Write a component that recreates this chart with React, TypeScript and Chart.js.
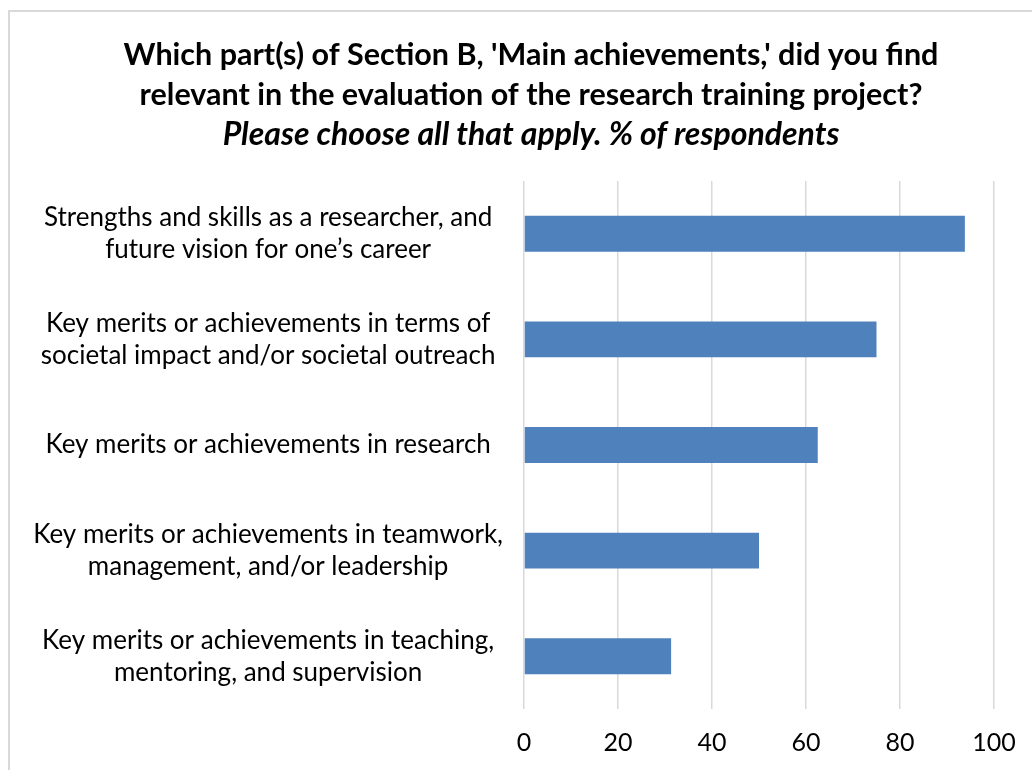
import React, { useEffect, useRef } from "react";
import { Chart, registerables } from "chart.js";

Chart.register(...registerables);

const categories: (string | string[])[] = [
  ["Strengths and skills as a researcher, and", "future vision for one’s career"],
  ["Key merits or achievements in terms of", "societal impact and/or societal outreach"],
  "Key merits or achievements in research",
  ["Key merits or achievements in teamwork,", "management, and/or leadership"],
  ["Key merits or achievements in teaching,", "mentoring, and supervision"],
];
const values = [93.8, 75, 62.5, 50, 31.3];
const xMin = 0;
const xMax = 100;
const xStep = 20;
const titleLines = [
  "Which part(s) of Section B, 'Main achievements,' did you find",
  "relevant in the evaluation of the research training project?",
];
const subtitleText = "Please choose all that apply. % of respondents";

const FONT = "Lato, 'Noto Sans', sans-serif";

export default function App() {
  const ref = useRef<HTMLCanvasElement | null>(null);
  useEffect(() => {
    if (!ref.current) return;
    const chart = new Chart(ref.current, {
      type: "bar",
      data: {
        labels: categories,
        datasets: [
          {
            data: values,
            backgroundColor: "#4F81BD",
            borderWidth: 0,
            categoryPercentage: 1,
            barPercentage: 0.34,
          },
        ],
      },
      options: {
        indexAxis: "y",
        animation: false,
        responsive: true,
        maintainAspectRatio: false,
        layout: { padding: { left: 0, right: 0, top: 0, bottom: 0 } },
        plugins: {
          legend: { display: false },
          tooltip: { enabled: false },
          title: {
            display: true,
            text: titleLines,
            color: "#000",
            font: { family: FONT, size: 30.5, weight: "bold", lineHeight: 40 / 30.5 },
            padding: { top: 24, bottom: 0 },
          },
          subtitle: {
            display: true,
            text: subtitleText,
            color: "#000",
            font: { family: FONT, size: 32, weight: "bold", style: "italic", lineHeight: 40 / 32 },
            padding: { top: 0, bottom: 26 },
          },
        },
        scales: {
          x: {
            min: xMin,
            max: xMax,
            ticks: {
              stepSize: xStep,
              padding: 19,
              color: "#000",
              font: { family: FONT, size: 25, lineHeight: 1.2 },
            },
            grid: { color: "#d9d9d9", lineWidth: 1.5, drawTicks: false },
            border: { display: false },
          },
          y: {
            grid: { display: false, drawTicks: false },
            border: { display: false },
            ticks: {
              padding: 21,
              crossAlign: "center",
              color: "#000",
              font: { family: FONT, size: 26, lineHeight: 32 / 26 },
            },
            afterFit: (scale: any) => {
              scale.width = 515;
            },
          },
          ySpacer: {
            type: "linear",
            position: "right",
            display: true,
            grid: { display: false, drawTicks: false },
            border: { display: false },
            ticks: { display: false },
            afterFit: (scale: any) => {
              scale.width = 59;
            },
          },
        },
      },
    });
    return () => chart.destroy();
  }, []);

  return (
    <div style={{ position: "fixed", left: 0, top: 0, width: 1032, height: 770, overflow: "hidden", background: "#fff" }}>
      <div
        style={{
          position: "absolute",
          left: 8,
          top: 10,
          width: 1100,
          height: 800,
          border: "2px solid #d9d9d9",
          boxSizing: "border-box",
        }}
      />
      <div style={{ position: "absolute", left: 9, top: 11, width: 1044, height: 766 }}>
        <canvas ref={ref} />
      </div>
    </div>
  );
}
